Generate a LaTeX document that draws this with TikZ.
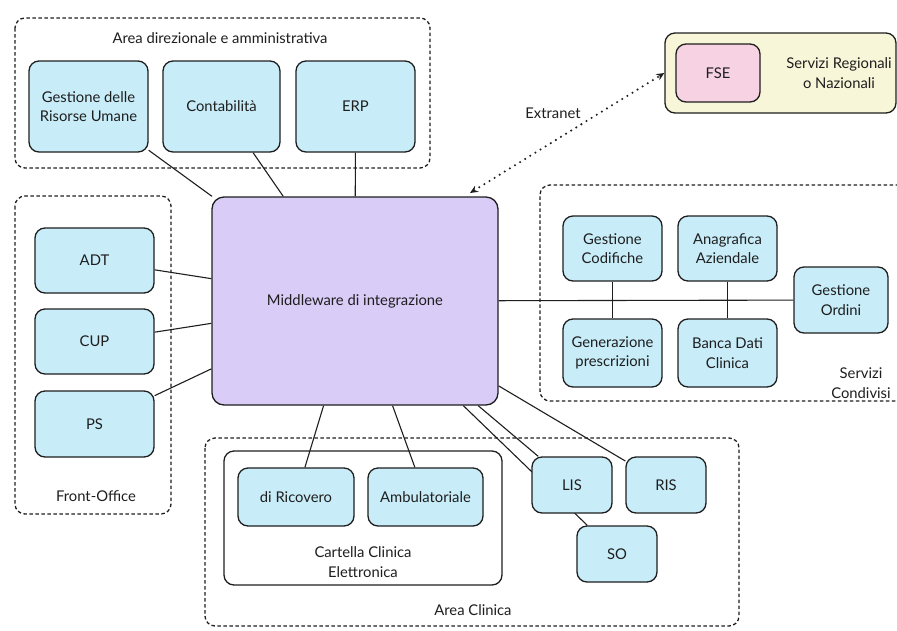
\documentclass[tikz,border=0pt]{standalone}
\usepackage{fontspec}
\setmainfont{Lato}
\usetikzlibrary{arrows.meta,backgrounds}
\definecolor{boxblue}{RGB}{200,237,249}
\definecolor{mwlilac}{RGB}{217,204,247}
\definecolor{fsepink}{RGB}{246,210,226}
\definecolor{regyellow}{RGB}{248,246,216}
\definecolor{ink}{RGB}{30,30,30}
\begin{document}
\begin{tikzpicture}[x=1pt,y=-1pt,
  font=\fontsize{14.8}{19.5}\selectfont,
  bx/.style={draw=ink, line width=1.3pt, fill=boxblue, rounded corners=10pt, align=center, inner sep=0pt, text=ink},
  grp/.style={draw=ink, line width=1.3pt, dash pattern=on 3.5pt off 2.5pt, rounded corners=10pt},
  conn/.style={draw=ink, line width=1.1pt},
  lbl/.style={align=center, inner sep=0pt, text=ink}]
\useasboundingbox (0,0) rectangle (897,630);

% group frames
\draw[grp] (15,18) rectangle (430,168);
\node[lbl] (tdir) at (220,38) {Area direzionale e amministrativa};
\draw[grp] (15,196) rectangle (171,514);
\node[lbl] (tfo) at (96,496) {Front-Office};
\draw[grp] (905,185) -- (540,185) -- (540,401) -- (905,401);
\node[lbl] (tsc) at (861,383) {Servizi\\Condivisi};
\draw[grp] (205,438) rectangle (739,626);
\node[lbl] (tac) at (473,610) {Area Clinica};
\node[draw=ink, line width=1.3pt, rounded corners=10pt, minimum width=278pt, minimum height=134pt, inner sep=0pt] (cce) at (363,518) {};
\node[lbl] (tcce) at (363,562) {Cartella Clinica\\Elettronica};

% regional services
\node[draw=ink, line width=1.3pt, fill=regyellow, rounded corners=10pt, minimum width=231pt, minimum height=80pt, inner sep=0pt] (srv) at (780.5,73) {};
\node[lbl] (tsrv) at (839,73) {Servizi Regionali\\o Nazionali};
\node[bx, fill=fsepink, minimum width=84pt, minimum height=58pt] (fse) at (718,73) {FSE};

% middleware
\node[draw=ink, line width=1.3pt, fill=mwlilac, rounded corners=12pt, minimum width=286pt, minimum height=208pt, inner sep=0pt, text=ink] (mw) at (355,301) {Middleware di integrazione};

% area direzionale
\node[bx, minimum width=119pt, minimum height=91pt] (gru) at (88.5,106.5) {Gestione delle\\Risorse Umane};
\node[bx, minimum width=117pt, minimum height=91pt] (cont) at (221.5,106.5) {Contabilità};
\node[bx, minimum width=119pt, minimum height=91pt] (erp) at (355.5,106.5) {ERP};

% front office
\node[bx, minimum width=119pt, minimum height=65pt] (adt) at (94.5,260.5) {ADT};
\node[bx, minimum width=119pt, minimum height=65pt] (cup) at (94.5,341.5) {CUP};
\node[bx, minimum width=119pt, minimum height=66pt] (ps) at (94.5,424) {PS};

% servizi condivisi
\node[bx, minimum width=99pt, minimum height=65pt] (gc) at (612.5,248.5) {Gestione\\Codifiche};
\node[bx, minimum width=99pt, minimum height=65pt] (aa) at (727.5,248.5) {Anagrafica\\Aziendale};
\node[bx, minimum width=99pt, minimum height=68pt] (gp) at (612.5,353) {Generazione\\prescrizioni};
\node[bx, minimum width=99pt, minimum height=68pt] (bdc) at (727.5,353) {Banca Dati\\Clinica};
\node[bx, minimum width=94pt, minimum height=66pt] (go) at (841,300) {Gestione\\Ordini};

% area clinica
\node[bx, minimum width=116pt, minimum height=58pt] (ric) at (296,497) {di Ricovero};
\node[bx, minimum width=115pt, minimum height=58pt] (amb) at (425.5,497) {Ambulatoriale};
\node[bx, minimum width=80pt, minimum height=56pt] (lis) at (572,485) {LIS};
\node[bx, minimum width=80pt, minimum height=56pt] (ris) at (666,485) {RIS};
\node[bx, minimum width=80pt, minimum height=56pt] (so) at (617,554) {SO};

% connectors
\begin{pgfonlayer}{background}
\draw[conn] (mw) -- (gru);
\draw[conn] (mw) -- (cont);
\draw[conn] (mw) -- (erp);
\draw[conn] (mw) -- (adt);
\draw[conn] (mw) -- (cup);
\draw[conn] (mw) -- (ps);
\draw[conn] (mw) -- (go);
\draw[conn] (gc) -- (gp);
\draw[conn] (aa) -- (bdc);
\draw[conn] (mw) -- (ric);
\draw[conn] (mw) -- (amb);
\draw[conn] (mw) -- (lis);
\draw[conn] (mw) -- (so);
\draw[conn] (mw) -- (ris);
\end{pgfonlayer}

% extranet link
\coordinate (exA) at (470,193);
\draw[ink, line width=2.3pt, line cap=round, dash pattern=on 0pt off 6pt,
  {Stealth[length=8pt,width=7pt]}-{Stealth[length=8pt,width=7pt]}] (exA) -- (srv.west);
\node[lbl] (tex) at (553,113) {Extranet};
\end{tikzpicture}
\end{document}
